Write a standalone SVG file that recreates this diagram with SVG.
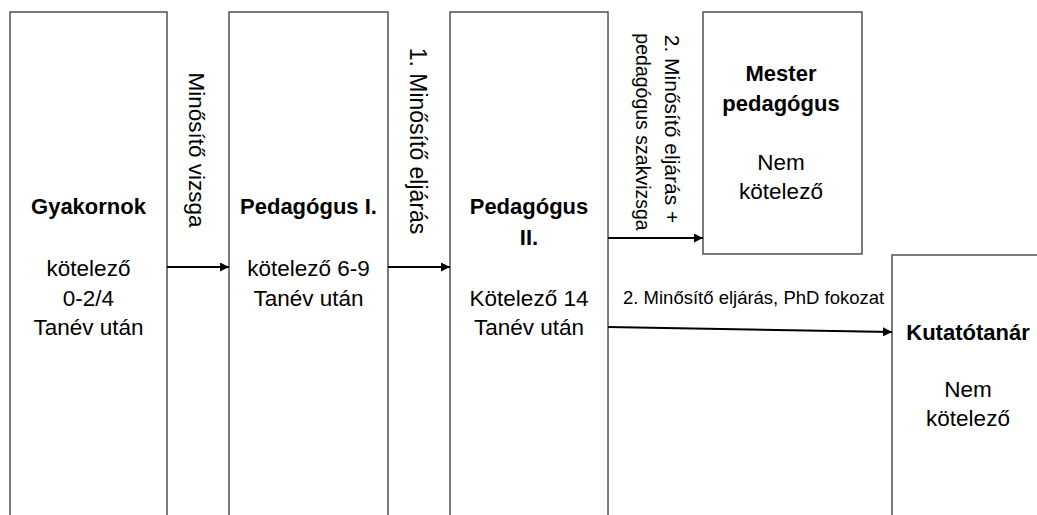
<svg xmlns="http://www.w3.org/2000/svg" width="1037" height="515" viewBox="0 0 1037 515">
  <defs>
    <marker id="ah" viewBox="0 0 10 10" refX="10" refY="5" markerWidth="4.5" markerHeight="4.5" orient="auto" markerUnits="strokeWidth">
      <path d="M0,0 L10,5 L0,10 Z" fill="#000"/>
    </marker>
    <style>
      .box { fill: #fff; stroke: #505050; stroke-width: 1.5; }
      .t { font-family: "Liberation Sans", Arial, sans-serif; font-size: 22.5px; fill: #000; text-anchor: middle; }
      .b { font-weight: bold; font-size: 22px; }
      .lbl { font-family: "Liberation Sans", Arial, sans-serif; fill: #000; text-anchor: middle; }
      .conn { stroke: #000; stroke-width: 2; fill: none; marker-end: url(#ah); }
    </style>
  </defs>
  <rect width="1037" height="515" fill="#fff"/>

  <g id="gyakornok">
    <rect class="box" x="10" y="12" width="157" height="520"/>
    <text class="t b" x="88.5" y="214">Gyakornok</text>
    <text class="t" x="88.5" y="276">kötelező</text>
    <text class="t" x="88.5" y="306">0-2/4</text>
    <text class="t" x="88.5" y="335">Tanév után</text>
  </g>

  <g id="pedagogus1">
    <rect class="box" x="229" y="12" width="159" height="520"/>
    <text class="t b" x="308.5" y="214">Pedagógus I.</text>
    <text class="t" x="308.5" y="276">kötelező 6-9</text>
    <text class="t" x="308.5" y="306">Tanév után</text>
  </g>

  <g id="pedagogus2">
    <rect class="box" x="450" y="12" width="158" height="520"/>
    <text class="t b" x="529" y="214">Pedagógus</text>
    <text class="t b" x="529" y="245">II.</text>
    <text class="t" x="529" y="306">Kötelező 14</text>
    <text class="t" x="529" y="335">Tanév után</text>
  </g>

  <g id="mester">
    <rect class="box" x="703" y="12" width="159" height="242"/>
    <text class="t b" x="781" y="81">Mester</text>
    <text class="t b" x="781" y="111">pedagógus</text>
    <text class="t" x="781" y="170">Nem</text>
    <text class="t" x="781" y="199">kötelező</text>
  </g>

  <g id="kutatotanar">
    <rect class="box" x="892" y="255" width="200" height="300"/>
    <text class="t b" x="968" y="340">Kutatótanár</text>
    <text class="t" x="968" y="397">Nem</text>
    <text class="t" x="968" y="426">kötelező</text>
  </g>

  <g id="connectors">
    <line class="conn" x1="167" y1="267" x2="229" y2="267"/>
    <line class="conn" x1="388" y1="267" x2="450" y2="267"/>
    <line class="conn" x1="608" y1="238" x2="703" y2="238"/>
    <line class="conn" x1="608" y1="327" x2="892" y2="332"/>
    <text class="lbl" style="font-size:22.5px" transform="translate(189,150) rotate(90)">Minősítő vizsga</text>
    <text class="lbl" style="font-size:23px" transform="translate(410,141) rotate(90)">1. Minősítő eljárás</text>
    <text class="lbl" style="font-size:21px" transform="translate(665,129) rotate(90)">2. Minősítő eljárás +</text>
    <text class="lbl" style="font-size:19.5px" transform="translate(636,132) rotate(90)">pedagógus szakvizsga</text>
    <text class="lbl" style="font-size:18.5px;text-anchor:start" x="623" y="304">2. Minősítő eljárás, PhD fokozat</text>
  </g>
</svg>
